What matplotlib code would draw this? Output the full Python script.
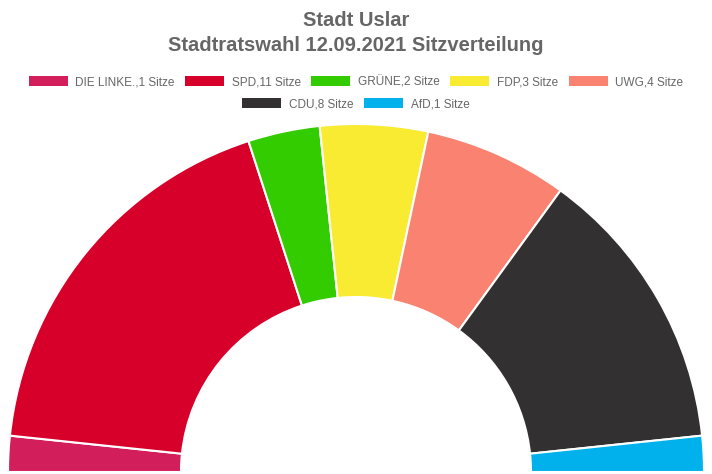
import matplotlib
matplotlib.use("Agg")
import matplotlib.pyplot as plt
from matplotlib.patches import Patch

parties = ["DIE LINKE.", "SPD", "GRÜNE", "FDP", "UWG", "CDU", "AfD"]
seats = [1, 11, 2, 3, 4, 8, 1]
colors = ["#D21F5C", "#D7002A", "#33CC00", "#F9EA32", "#F98271", "#323030", "#00B1EB"]
title_lines = ["Stadt Uslar", "Stadtratswahl 12.09.2021 Sitzverteilung"]

plt.rcParams['font.family'] = ['Liberation Sans', 'DejaVu Sans']
W, H = 712, 474
fig = plt.figure(figsize=(W / 100, H / 100), dpi=100)
ax = fig.add_axes([0, 0, 1, 1])

cx, cy = 356, H - 472
r_out, r_in = 348, 175
vals = seats + [sum(seats)]
cols = colors + ["none"]
wedges, _ = ax.pie(vals, colors=cols, startangle=180, counterclock=False,
                   radius=r_out, center=(cx, cy), frame=True,
                   wedgeprops=dict(width=r_out - r_in, edgecolor="white", linewidth=1.5))
wedges[-1].set_edgecolor("none")
ax.set_xlim(0, W)
ax.set_ylim(0, H)
ax.set_aspect("equal")
ax.axis("off")

fig.text(0.5, 1 - 20 / H, title_lines[0], ha="center", va="center",
         fontsize=14.5, fontweight="bold", color="#666666")
fig.text(0.5, 1 - 45 / H, title_lines[1], ha="center", va="center",
         fontsize=14.5, fontweight="bold", color="#666666")

labels = [f"{p},{s} Sitze" for p, s in zip(parties, seats)]
handles = [Patch(facecolor=c, edgecolor="none") for c in colors]
common = dict(frameon=False, fontsize=8.5, labelcolor="#666666", handlelength=3.3,
              handleheight=1.0, handletextpad=0.65, columnspacing=0.9,
              borderpad=0, borderaxespad=0)
leg1 = fig.legend(handles[:5], labels[:5], ncol=5, loc="center",
                  bbox_to_anchor=(0.5, 1 - 82 / H), **common)
leg2 = fig.legend(handles[5:], labels[5:], ncol=2, loc="center",
                  bbox_to_anchor=(0.5, 1 - 104 / H), **common)

fig.savefig("out.png", dpi=100)
